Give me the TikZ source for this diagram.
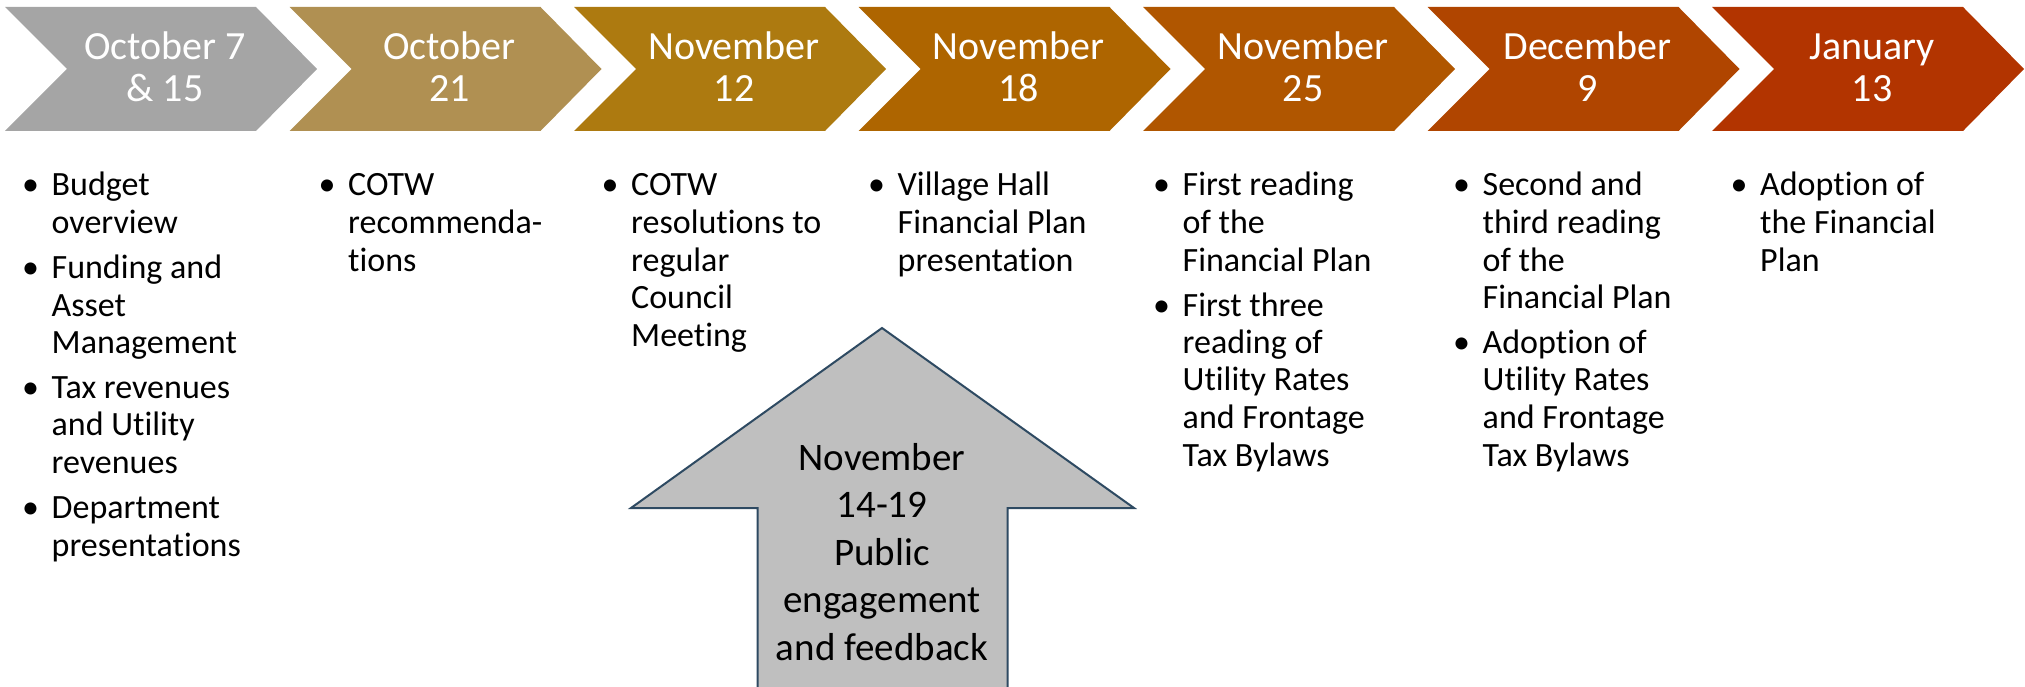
\documentclass[tikz,border=0pt]{standalone}
\usepackage{fontspec}
\setmainfont[Ligatures=NoCommon]{Carlito}
\definecolor{chA}{HTML}{A5A5A5}
\definecolor{chB}{HTML}{B09052}
\definecolor{chC}{HTML}{AD7A10}
\definecolor{chD}{HTML}{AE6500}
\definecolor{chE}{HTML}{B05600}
\definecolor{chF}{HTML}{B04500}
\definecolor{chG}{HTML}{B23400}
\definecolor{arrowfill}{HTML}{BFBFBF}
\definecolor{arrowline}{HTML}{2E4A62}
\newcommand\bulletmark{\makebox[29.5pt][l]{•}}
\begin{document}
\begin{tikzpicture}[x=1pt,y=-1pt,
  datetext/.style={text=white, inner sep=0pt, anchor=base,
    font=\fontsize{40}{42}\selectfont},
  itemtext/.style={text=black, inner sep=0pt, anchor=base west,
    font=\fontsize{34}{37.5}\selectfont},
  uparrow/.style={fill=arrowfill, draw=arrowline, line width=2pt, line join=miter},
  arrowtext/.style={text=black, inner sep=0pt, anchor=base,
    font=\fontsize{39}{47.5}\selectfont}]
\useasboundingbox (0,0) rectangle (2025,687);
\clip (0,0) rectangle (2025,687);

% timeline chevrons
\foreach \i/\c in {0/chA,1/chB,2/chC,3/chD,4/chE,5/chF,6/chG} {
  \pgfmathsetmacro\L{5+284.5*\i}
  \fill[\c] (\L,7) -- (\L+251,7) -- (\L+312,69) -- (\L+251,131)
            -- (\L,131) -- (\L+62,69) -- cycle;
}

% dates
\node[datetext] (d1) at (165,60)    {\begin{tabular}[t]{@{}c@{}}October 7\\ \& 15\end{tabular}};
\node[datetext] (d2) at (449.5,60)  {\begin{tabular}[t]{@{}c@{}}October\\ 21\end{tabular}};
\node[datetext] (d3) at (734,60)    {\begin{tabular}[t]{@{}c@{}}November\\ 12\end{tabular}};
\node[datetext] (d4) at (1018.5,60) {\begin{tabular}[t]{@{}c@{}}November\\ 18\end{tabular}};
\node[datetext] (d5) at (1303,60)   {\begin{tabular}[t]{@{}c@{}}November\\ 25\end{tabular}};
\node[datetext] (d6) at (1587.5,60) {\begin{tabular}[t]{@{}c@{}}December\\ 9\end{tabular}};
\node[datetext] (d7) at (1872,60)   {\begin{tabular}[t]{@{}c@{}}January\\ 13\end{tabular}};

% bullet lists under each date
\node[itemtext] (t1) at (22,196) {\begin{tabular}[t]{@{}l@{}l@{}}
  \bulletmark & Budget\\ & overview\\[7.5pt]
  \bulletmark & Funding and\\ & Asset\\ & Management\\[7.5pt]
  \bulletmark & Tax revenues\\ & and Utility\\ & revenues\\[7.5pt]
  \bulletmark & Department\\ & presentations
\end{tabular}};
\node[itemtext] (t2) at (318.5,196) {\begin{tabular}[t]{@{}l@{}l@{}}
  \bulletmark & COTW\\ & recommenda-\\ & tions
\end{tabular}};
\node[itemtext] (t3) at (601.5,196) {\begin{tabular}[t]{@{}l@{}l@{}}
  \bulletmark & COTW\\ & resolutions to\\ & regular\\ & Council\\ & Meeting
\end{tabular}};
\node[itemtext] (t4) at (868,196) {\begin{tabular}[t]{@{}l@{}l@{}}
  \bulletmark & Village Hall\\ & Financial Plan\\ & presentation
\end{tabular}};
\node[itemtext] (t5) at (1153,196) {\begin{tabular}[t]{@{}l@{}l@{}}
  \bulletmark & First reading\\ & of the\\ & Financial Plan\\[7.5pt]
  \bulletmark & First three\\ & reading of\\ & Utility Rates\\ & and Frontage\\ & Tax Bylaws
\end{tabular}};
\node[itemtext] (t6) at (1453,196) {\begin{tabular}[t]{@{}l@{}l@{}}
  \bulletmark & Second and\\ & third reading\\ & of the\\ & Financial Plan\\[7.5pt]
  \bulletmark & Adoption of\\ & Utility Rates\\ & and Frontage\\ & Tax Bylaws
\end{tabular}};
\node[itemtext] (t7) at (1730.5,196) {\begin{tabular}[t]{@{}l@{}l@{}}
  \bulletmark & Adoption of\\ & the Financial\\ & Plan
\end{tabular}};

% public engagement arrow
\draw[uparrow] (882,328) -- (1134,508) -- (1007.5,508) -- (1007.5,700)
  -- (757.5,700) -- (757.5,508) -- (631,508) -- cycle;
\node[arrowtext] (pub) at (882,470) {\begin{tabular}[t]{@{}c@{}}November\\ 14-19\\ Public\\ engagement\\ and feedback\end{tabular}};
\end{tikzpicture}
\end{document}
